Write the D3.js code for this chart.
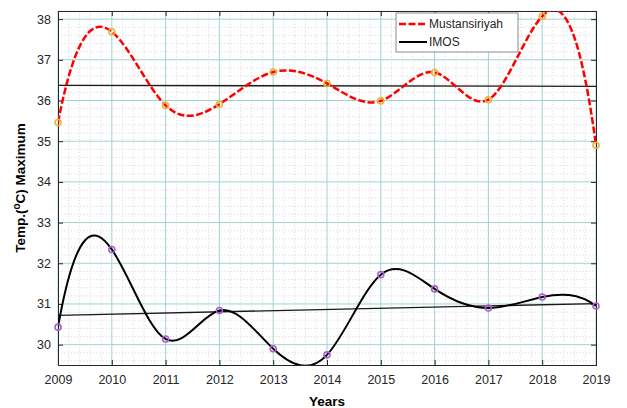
<!DOCTYPE html>
<html>
<head>
<meta charset="utf-8">
<script src="https://cdn.jsdelivr.net/npm/d3@7"></script>
<style>
  body { margin: 0; background: #fff; }
  svg { display: block; font-family: "Liberation Sans", Arial, sans-serif; }
</style>
</head>
<body>
<svg id="chart" width="627" height="408"></svg>
<script>
// ---- data ----
var years = [2009, 2010, 2011, 2012, 2013, 2014, 2015, 2016, 2017, 2018, 2019];
var mustansiriyah = [35.46, 37.69, 35.88, 35.91, 36.70, 36.42, 35.99, 36.69, 36.02, 38.07, 34.90];
var imos = [30.43, 32.34, 30.14, 30.84, 29.90, 29.75, 31.72, 31.37, 30.90, 31.17, 30.95];
var trendYears = [2009, 2019];
var trendMustansiriyah = [36.37, 36.35];
var trendImos = [30.72, 31.01];
var yTicks = [30, 31, 32, 33, 34, 35, 36, 37, 38];

var margin = {top: 11, right: 31, bottom: 43, left: 58},
    width = 627 - margin.left - margin.right,
    height = 408 - margin.top - margin.bottom;

// cubic spline curve with not-a-knot ends (like MATLAB spline)
function curveSplineNotAKnot(context) {
    var xs, ys;
    return {
        areaStart: function() {}, areaEnd: function() {},
        lineStart: function() { xs = []; ys = []; },
        point: function(px, py) { xs.push(+px); ys.push(+py); },
        lineEnd: function() {
            var n = xs.length, i, j, k;
            if (n < 4) {
                context.moveTo(xs[0], ys[0]);
                for (i = 1; i < n; i++) context.lineTo(xs[i], ys[i]);
                return;
            }
            var h = [];
            for (i = 0; i < n - 1; i++) h.push(xs[i + 1] - xs[i]);
            // build system A m = b
            var A = [], b = [];
            for (i = 0; i < n; i++) { A.push(new Array(n).fill(0)); b.push(0); }
            A[0][0] = h[1]; A[0][1] = -(h[0] + h[1]); A[0][2] = h[0];
            for (i = 1; i < n - 1; i++) {
                A[i][i - 1] = h[i - 1];
                A[i][i] = 2 * (h[i - 1] + h[i]);
                A[i][i + 1] = h[i];
                b[i] = 6 * ((ys[i + 1] - ys[i]) / h[i] - (ys[i] - ys[i - 1]) / h[i - 1]);
            }
            A[n - 1][n - 3] = h[n - 2]; A[n - 1][n - 2] = -(h[n - 3] + h[n - 2]); A[n - 1][n - 1] = h[n - 3];
            // gaussian elimination with partial pivoting
            for (k = 0; k < n; k++) {
                var p = k;
                for (i = k + 1; i < n; i++) if (Math.abs(A[i][k]) > Math.abs(A[p][k])) p = i;
                var tmp = A[k]; A[k] = A[p]; A[p] = tmp;
                var tb = b[k]; b[k] = b[p]; b[p] = tb;
                for (i = k + 1; i < n; i++) {
                    var f = A[i][k] / A[k][k];
                    if (!f) continue;
                    for (j = k; j < n; j++) A[i][j] -= f * A[k][j];
                    b[i] -= f * b[k];
                }
            }
            var m = new Array(n).fill(0);
            for (i = n - 1; i >= 0; i--) {
                var s = b[i];
                for (j = i + 1; j < n; j++) s -= A[i][j] * m[j];
                m[i] = s / A[i][i];
            }
            context.moveTo(xs[0], ys[0]);
            for (i = 0; i < n - 1; i++) {
                var d = (ys[i + 1] - ys[i]) / h[i];
                var s0 = d - h[i] * (2 * m[i] + m[i + 1]) / 6;
                var s1 = d + h[i] * (m[i] + 2 * m[i + 1]) / 6;
                context.bezierCurveTo(
                    xs[i] + h[i] / 3, ys[i] + s0 * h[i] / 3,
                    xs[i + 1] - h[i] / 3, ys[i + 1] - s1 * h[i] / 3,
                    xs[i + 1], ys[i + 1]);
            }
        }
    };
}

var svg = d3.select('#chart');
var g = svg.append('g').attr('transform', 'translate(' + margin.left + ',' + margin.top + ')');

var x = d3.scaleLinear().domain([2009, 2019]).range([0, width]);
var y = d3.scaleLinear().domain([29.5, 38.2]).range([height, 0]);

g.append('clipPath').attr('id', 'plotclip')
    .append('rect').attr('width', width).attr('height', height);

// minor grid (dotted)
var minorX = d3.range(2009, 2019.001, 0.2).filter(function(d) { return Math.abs(d - Math.round(d)) > 0.01; });
var minorY = d3.range(29.6, 38.2, 0.2).filter(function(d) { return Math.abs(d - Math.round(d)) > 0.01; });

g.append('g').selectAll('line').data(minorX).enter().append('line')
    .attr('x1', function(d) { return x(d); }).attr('x2', function(d) { return x(d); })
    .attr('y1', 0).attr('y2', height)
    .attr('stroke', '#d4d4d4').attr('stroke-width', 0.8).attr('stroke-dasharray', '1.2,2');
g.append('g').selectAll('line').data(minorY).enter().append('line')
    .attr('y1', function(d) { return y(d); }).attr('y2', function(d) { return y(d); })
    .attr('x1', 0).attr('x2', width)
    .attr('stroke', '#d4d4d4').attr('stroke-width', 0.8).attr('stroke-dasharray', '1.2,2');

// major grid
g.append('g').selectAll('line').data(years).enter().append('line')
    .attr('x1', function(d) { return x(d); }).attr('x2', function(d) { return x(d); })
    .attr('y1', 0).attr('y2', height)
    .attr('stroke', '#9fd3d3').attr('stroke-width', 1);
g.append('g').selectAll('line').data(yTicks).enter().append('line')
    .attr('y1', function(d) { return y(d); }).attr('y2', function(d) { return y(d); })
    .attr('x1', 0).attr('x2', width)
    .attr('stroke', '#9fd3d3').attr('stroke-width', 1);

// axes (ticks inward, box all round)
var fmt = d3.format('d');
var xAxis = g.append('g').attr('transform', 'translate(0,' + height + ')')
    .call(d3.axisBottom(x).tickValues(years).tickFormat(fmt).tickSize(-5).tickPadding(10));
var xTop = g.append('g')
    .call(d3.axisTop(x).tickValues(years).tickFormat('').tickSize(-5));
var yAxis = g.append('g')
    .call(d3.axisLeft(y).tickValues(yTicks).tickFormat(fmt).tickSize(-5).tickPadding(7));
var yRight = g.append('g').attr('transform', 'translate(' + width + ',0)')
    .call(d3.axisRight(y).tickValues(yTicks).tickFormat('').tickSize(-5));

[xAxis, xTop, yAxis, yRight].forEach(function(a) {
    a.select('.domain').attr('stroke', '#262626').attr('stroke-width', 1);
    a.selectAll('.tick line').attr('stroke', '#262626');
    a.selectAll('.tick text').attr('fill', '#262626').style('font-size', '12.5px');
});

// trend lines
var line = d3.line()
    .x(function(d) { return x(d[0]); })
    .y(function(d) { return y(d[1]); });
g.append('path')
    .datum(d3.zip(trendYears, trendMustansiriyah))
    .attr('d', line).attr('fill', 'none').attr('stroke', '#1a1a1a').attr('stroke-width', 1.3);
g.append('path')
    .datum(d3.zip(trendYears, trendImos))
    .attr('d', line).attr('fill', 'none').attr('stroke', '#1a1a1a').attr('stroke-width', 1.3);

// spline curves
var spline = d3.line()
    .x(function(d) { return x(d[0]); })
    .y(function(d) { return y(d[1]); })
    .curve(curveSplineNotAKnot);

var curves = g.append('g').attr('clip-path', 'url(#plotclip)');
curves.append('path')
    .datum(d3.zip(years, imos))
    .attr('d', spline).attr('fill', 'none').attr('stroke', '#000').attr('stroke-width', 2);

curves.append('path')
    .datum(d3.zip(years, mustansiriyah))
    .attr('d', spline).attr('fill', 'none').attr('stroke', '#ff0000').attr('stroke-width', 2.5)
    .attr('stroke-dasharray', '7,2.5');

// markers
g.append('g').selectAll('circle').data(d3.zip(years, mustansiriyah)).enter().append('circle')
    .attr('cx', function(d) { return x(d[0]); }).attr('cy', function(d) { return y(d[1]); })
    .attr('r', 3).attr('fill', 'none').attr('stroke', '#f0b030').attr('stroke-width', 1.6);
g.append('g').selectAll('circle').data(d3.zip(years, imos)).enter().append('circle')
    .attr('cx', function(d) { return x(d[0]); }).attr('cy', function(d) { return y(d[1]); })
    .attr('r', 3).attr('fill', 'none').attr('stroke', '#a860c8').attr('stroke-width', 1.6);

// legend
var legend = svg.append('g').attr('transform', 'translate(396,13)');
legend.append('rect').attr('width', 122).attr('height', 39)
    .attr('fill', '#fff').attr('stroke', '#8c8c8c').attr('stroke-width', 1);
legend.append('line').attr('x1', 3).attr('x2', 31).attr('y1', 11).attr('y2', 11)
    .attr('stroke', '#ff0000').attr('stroke-width', 2.5).attr('stroke-dasharray', '7,2.5');
legend.append('text').attr('x', 33).attr('y', 15).text('Mustansiriyah')
    .style('font-size', '12px').attr('fill', '#262626');
legend.append('line').attr('x1', 3).attr('x2', 31).attr('y1', 29).attr('y2', 29)
    .attr('stroke', '#000').attr('stroke-width', 2);
legend.append('text').attr('x', 33).attr('y', 33).text('IMOS')
    .style('font-size', '12px').attr('fill', '#262626');

// axis labels
svg.append('text')
    .attr('x', margin.left + width / 2).attr('y', 406)
    .attr('text-anchor', 'middle')
    .style('font-size', '13.5px').style('font-weight', 'bold').attr('fill', '#000')
    .text('Years');

var yl = svg.append('text')
    .attr('transform', 'translate(25,' + (margin.top + height / 2) + ') rotate(-90)')
    .attr('text-anchor', 'middle')
    .style('font-size', '13.5px').style('font-weight', 'bold').attr('fill', '#000');
yl.append('tspan').text('Temp.(');
yl.append('tspan').attr('dy', -5).style('font-size', '10px').text('o');
yl.append('tspan').attr('dy', 5).text('C) Maximum');
</script>
</body>
</html>
